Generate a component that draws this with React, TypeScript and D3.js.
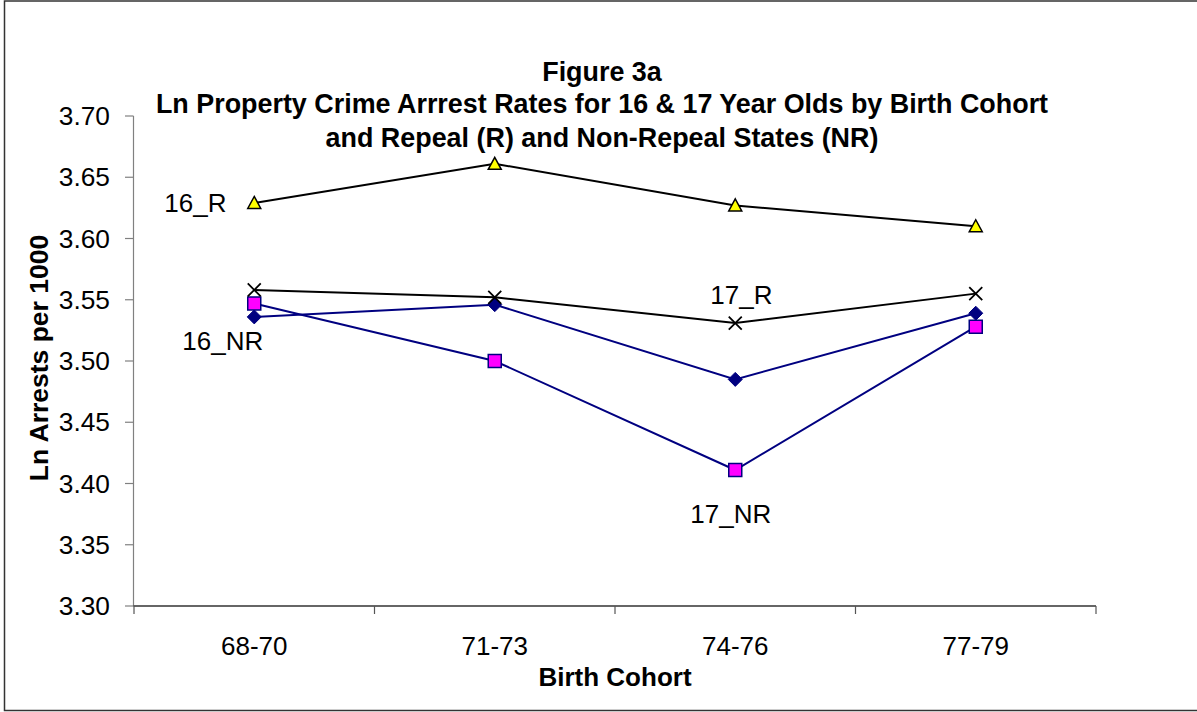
import React from "react";
import * as d3 from "d3";

const categories = ["68-70", "71-73", "74-76", "77-79"];
const yTicks = [3.3, 3.35, 3.4, 3.45, 3.5, 3.55, 3.6, 3.65, 3.7];
const series16R = [3.629, 3.661, 3.627, 3.610];
const series17R = [3.558, 3.552, 3.531, 3.555];
const series16NR = [3.536, 3.546, 3.485, 3.539];
const series17NR = [3.547, 3.500, 3.411, 3.528];
const titleLines = [
  "Figure 3a",
  "Ln Property Crime Arrrest Rates for 16 & 17 Year Olds by Birth Cohort",
  "and Repeal (R) and Non-Repeal States (NR)",
];
const seriesLabels = [
  { text: "16_R", cat: 0, value: 3.629, dx: -90, dy: 9 },
  { text: "16_NR", cat: 0, value: 3.536, dx: -72, dy: 33 },
  { text: "17_R", cat: 2, value: 3.531, dx: -25, dy: -19 },
  { text: "17_NR", cat: 2, value: 3.411, dx: -45, dy: 53 },
];

const W = 1197;
const H = 712;
const FONT = "'Liberation Sans', Arial, Helvetica, sans-serif";

const x = d3.scaleBand<string>().domain(categories).range([134, 1096]).paddingInner(0).paddingOuter(0);
const y = d3.scaleLinear().domain([3.3, 3.7]).range([606, 116]);
const cx = (c: string) => (x(c) as number) + x.bandwidth() / 2;

const triPath = (px: number, py: number) => {
  const s = 6.5;
  return `M${px},${py - s}L${px + s},${py + s - 1}L${px - s},${py + s - 1}Z`;
};
const sqPath = (px: number, py: number) => {
  const s = 6.5;
  return `M${px - s},${py - s}h${2 * s}v${2 * s}h${-2 * s}Z`;
};
const diaPath = (px: number, py: number) => {
  const s = 7;
  return `M${px},${py - s}L${px + s},${py}L${px},${py + s}L${px - s},${py}Z`;
};
const xPath = (px: number, py: number) => {
  const s = 6.5;
  return `M${px - s},${py - s}L${px + s},${py + s}M${px - s},${py + s}L${px + s},${py - s}`;
};

export default function App() {
  const line = d3
    .line<number>()
    .x((_, i) => cx(categories[i]))
    .y((v) => y(v));

  const series = [
    { values: series16NR, color: "#000080", marker: "diamond" },
    { values: series17NR, color: "#000080", marker: "square" },
    { values: series16R, color: "#000000", marker: "triangle" },
    { values: series17R, color: "#000000", marker: "x" },
  ];

  return (
    <svg
      width={W}
      height={H}
      style={{ position: "absolute", left: 0, top: 0, background: "#fff" }}
      fontFamily={FONT}
    >
      <rect x={0} y={0} width={W} height={H} fill="#fff" />
      <rect x={4.5} y={1} width={1200} height={709.5} fill="none" stroke="#333" strokeWidth={1.5} />

      {titleLines.map((t, i) => (
        <text
          key={t}
          x={602}
          y={[81, 113, 147][i]}
          textAnchor="middle"
          fontWeight="bold"
          fontSize={26.9}
          fill="#000"
        >
          {t}
        </text>
      ))}

      {/* y axis */}
      <line x1={133.5} x2={133.5} y1={y(3.7)} y2={y(3.3)} stroke="#808080" strokeWidth={1.2} />
      {yTicks.map((t) => (
        <g key={t}>
          <line x1={125} x2={133.5} y1={y(t)} y2={y(t)} stroke="#808080" strokeWidth={1.2} />
          <text x={110} y={y(t) + 9} textAnchor="end" fontSize={26.3} fill="#000">
            {t.toFixed(2)}
          </text>
        </g>
      ))}

      {/* x axis */}
      <line x1={133.5} x2={1096} y1={y(3.3)} y2={y(3.3)} stroke="#333" strokeWidth={1.5} />
      {[...categories.map((c) => x(c) as number), 1096].map((v, i) => (
        <line key={i} x1={v} x2={v} y1={y(3.3)} y2={y(3.3) + 8} stroke="#555" strokeWidth={1.2} />
      ))}
      {categories.map((c) => (
        <text key={c} x={cx(c)} y={655} textAnchor="middle" fontSize={26} fill="#000">
          {c}
        </text>
      ))}
      <text x={615} y={686} textAnchor="middle" fontWeight="bold" fontSize={26} fill="#000">
        Birth Cohort
      </text>
      <text
        transform={`translate(48,358) rotate(-90)`}
        textAnchor="middle"
        fontWeight="bold"
        fontSize={26.5}
        fill="#000"
      >
        Ln Arrests per 1000
      </text>

      {series.map((s, si) => (
        <g key={si}>
          <path d={line(s.values) || ""} fill="none" stroke={s.color} strokeWidth={2} />
          {s.values.map((v, i) => {
            const px = cx(categories[i]);
            const py = y(v);
            if (s.marker === "diamond")
              return <path key={i} d={diaPath(px, py)} fill="#000080" stroke="#000080" strokeWidth={1} />;
            if (s.marker === "square")
              return <path key={i} d={sqPath(px, py)} fill="#ff00ff" stroke="#000080" strokeWidth={1.5} />;
            if (s.marker === "triangle")
              return <path key={i} d={triPath(px, py)} fill="#ffff00" stroke="#000" strokeWidth={1.5} />;
            return <path key={i} d={xPath(px, py)} fill="none" stroke="#000" strokeWidth={1.8} />;
          })}
        </g>
      ))}

      {seriesLabels.map((l) => (
        <text
          key={l.text}
          x={cx(categories[l.cat]) + l.dx}
          y={y(l.value) + l.dy}
          textAnchor="start"
          fontSize={26}
          fill="#000"
        >
          {l.text}
        </text>
      ))}
    </svg>
  );
}
